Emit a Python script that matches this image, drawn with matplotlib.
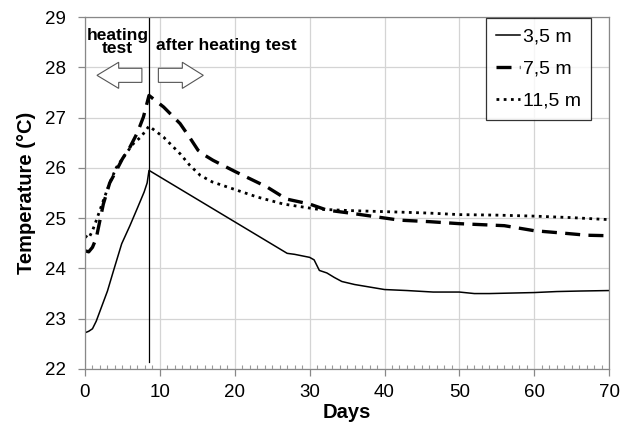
import matplotlib
matplotlib.use("Agg")
import matplotlib.pyplot as plt
from matplotlib.patches import FancyArrow
from matplotlib.ticker import MultipleLocator

plt.rcParams['font.family'] = ['Liberation Sans', 'DejaVu Sans']

# 3,5 m
days_a = [0, 0.5, 1, 1.5, 2, 3, 3.8, 4.9, 6, 7, 7.9, 8.3, 8.55, 27, 28, 30, 30.6, 31.3, 32.3,
          33.3, 34.3, 36, 38, 40, 43, 46.5, 50, 52, 54, 57, 60, 63, 66, 70]
temp_a = [22.72, 22.75, 22.8, 22.95, 23.15, 23.55, 23.95, 24.49, 24.85, 25.2, 25.52, 25.7, 25.95,
          24.3, 24.28, 24.22, 24.17, 23.96, 23.91, 23.82, 23.74, 23.68, 23.63, 23.58, 23.56,
          23.53, 23.53, 23.5, 23.5, 23.51, 23.52, 23.54, 23.55, 23.56]
# 7,5 m
days_b = [0, 0.5, 1, 1.5, 2.45, 3.3, 4.2, 5, 6, 7, 7.8, 8.55, 10.5, 12.7, 14, 15.1, 16, 17.1,
          20, 24.3, 26.9, 30, 32.3, 35.4, 42, 46, 50, 53, 56, 60, 64, 67, 70]
temp_b = [24.35, 24.33, 24.42, 24.6, 25.28, 25.7, 25.95, 26.18, 26.41, 26.7, 27.01, 27.44,
          27.21, 26.88, 26.6, 26.35, 26.25, 26.15, 25.93, 25.62, 25.38, 25.28, 25.16, 25.1,
          24.96, 24.93, 24.89, 24.87, 24.85, 24.75, 24.7, 24.66, 24.65]
# 11,5 m
days_c = [0, 0.5, 1, 1.5, 2.45, 3.3, 4.2, 5.3, 6.45, 7.5, 8.55, 10.5, 12.7, 14, 15.4, 17, 19.8,
          23, 26.5, 30.9, 35.4, 42, 46, 50, 55, 60, 65, 70]
temp_c = [24.65, 24.6, 24.75, 24.95, 25.35, 25.7, 26.01, 26.25, 26.48, 26.62, 26.83, 26.61,
          26.28, 26.05, 25.85, 25.72, 25.58, 25.42, 25.28, 25.18, 25.15, 25.12, 25.1, 25.07,
          25.06, 25.04, 25.01, 24.97]

labels = ['3,5 m', '7,5 m', '11,5 m']
split_day = 8.55

fig = plt.figure(figsize=(6.3, 4.23), dpi=100)
ax = fig.add_axes([0.1349, 0.1277, 0.832, 0.8321])

ax.plot(days_a, temp_a, color='black', lw=1.1, label=labels[0])
ax.plot(days_b, temp_b, color='black', lw=2.4, linestyle=(0, (4.5, 2.5)), label=labels[1])
ax.plot(days_c, temp_c, color='black', lw=2.0, linestyle=(0, (1, 1.6)), label=labels[2])

ax.plot([split_day, split_day], [22.13, 29], color='black', lw=0.9)

# hollow block arrows
ax.add_patch(FancyArrow(7.6, 27.84, -6.0, 0, width=0.28, head_width=0.52, head_length=2.9,
                        length_includes_head=True, facecolor='white', edgecolor='#555555', lw=0.8))
ax.add_patch(FancyArrow(9.8, 27.84, 6.0, 0, width=0.28, head_width=0.52, head_length=2.8,
                        length_includes_head=True, facecolor='white', edgecolor='#555555', lw=0.8))

ax.text(4.35, 28.5, 'heating\ntest', ha='center', va='center', fontsize=12.5,
        fontweight='bold', linespacing=0.85)
ax.text(9.5, 28.43, 'after heating test', ha='left', va='center', fontsize=12.5,
        fontweight='bold')

ax.set_xlim(0, 70)
ax.set_ylim(22, 29)
ax.xaxis.set_major_locator(MultipleLocator(10))
ax.xaxis.set_minor_locator(MultipleLocator(1))
ax.yaxis.set_major_locator(MultipleLocator(1))
ax.grid(True, which='major', color='#d4d4d4', lw=0.9)
ax.set_axisbelow(True)

for s in ax.spines.values():
    s.set_color('#888888')
    s.set_linewidth(0.9)

ax.tick_params(axis='both', which='major', labelsize=13.5, color='#888888', length=5, width=0.9)
ax.tick_params(axis='x', which='major', pad=6)
ax.tick_params(axis='y', which='major', pad=9)
ax.tick_params(axis='x', which='minor', direction='in', length=3, color='#999999', width=0.8)
ax.tick_params(axis='y', which='minor', left=False)

ax.set_xlabel('Days', fontsize=14.5, fontweight='bold', labelpad=1)
ax.set_ylabel('Temperature (°C)', fontsize=14.5, fontweight='bold', labelpad=6)

leg = ax.legend(loc='upper right', bbox_to_anchor=(0.9656, 0.997), borderaxespad=0,
                fontsize=14, frameon=True, fancybox=False, handlelength=1.2,
                handletextpad=0.2, borderpad=0.5, labelspacing=0.75)
leg.get_frame().set_edgecolor('black')
leg.get_frame().set_linewidth(0.9)

fig.savefig('out.png', dpi=100)
